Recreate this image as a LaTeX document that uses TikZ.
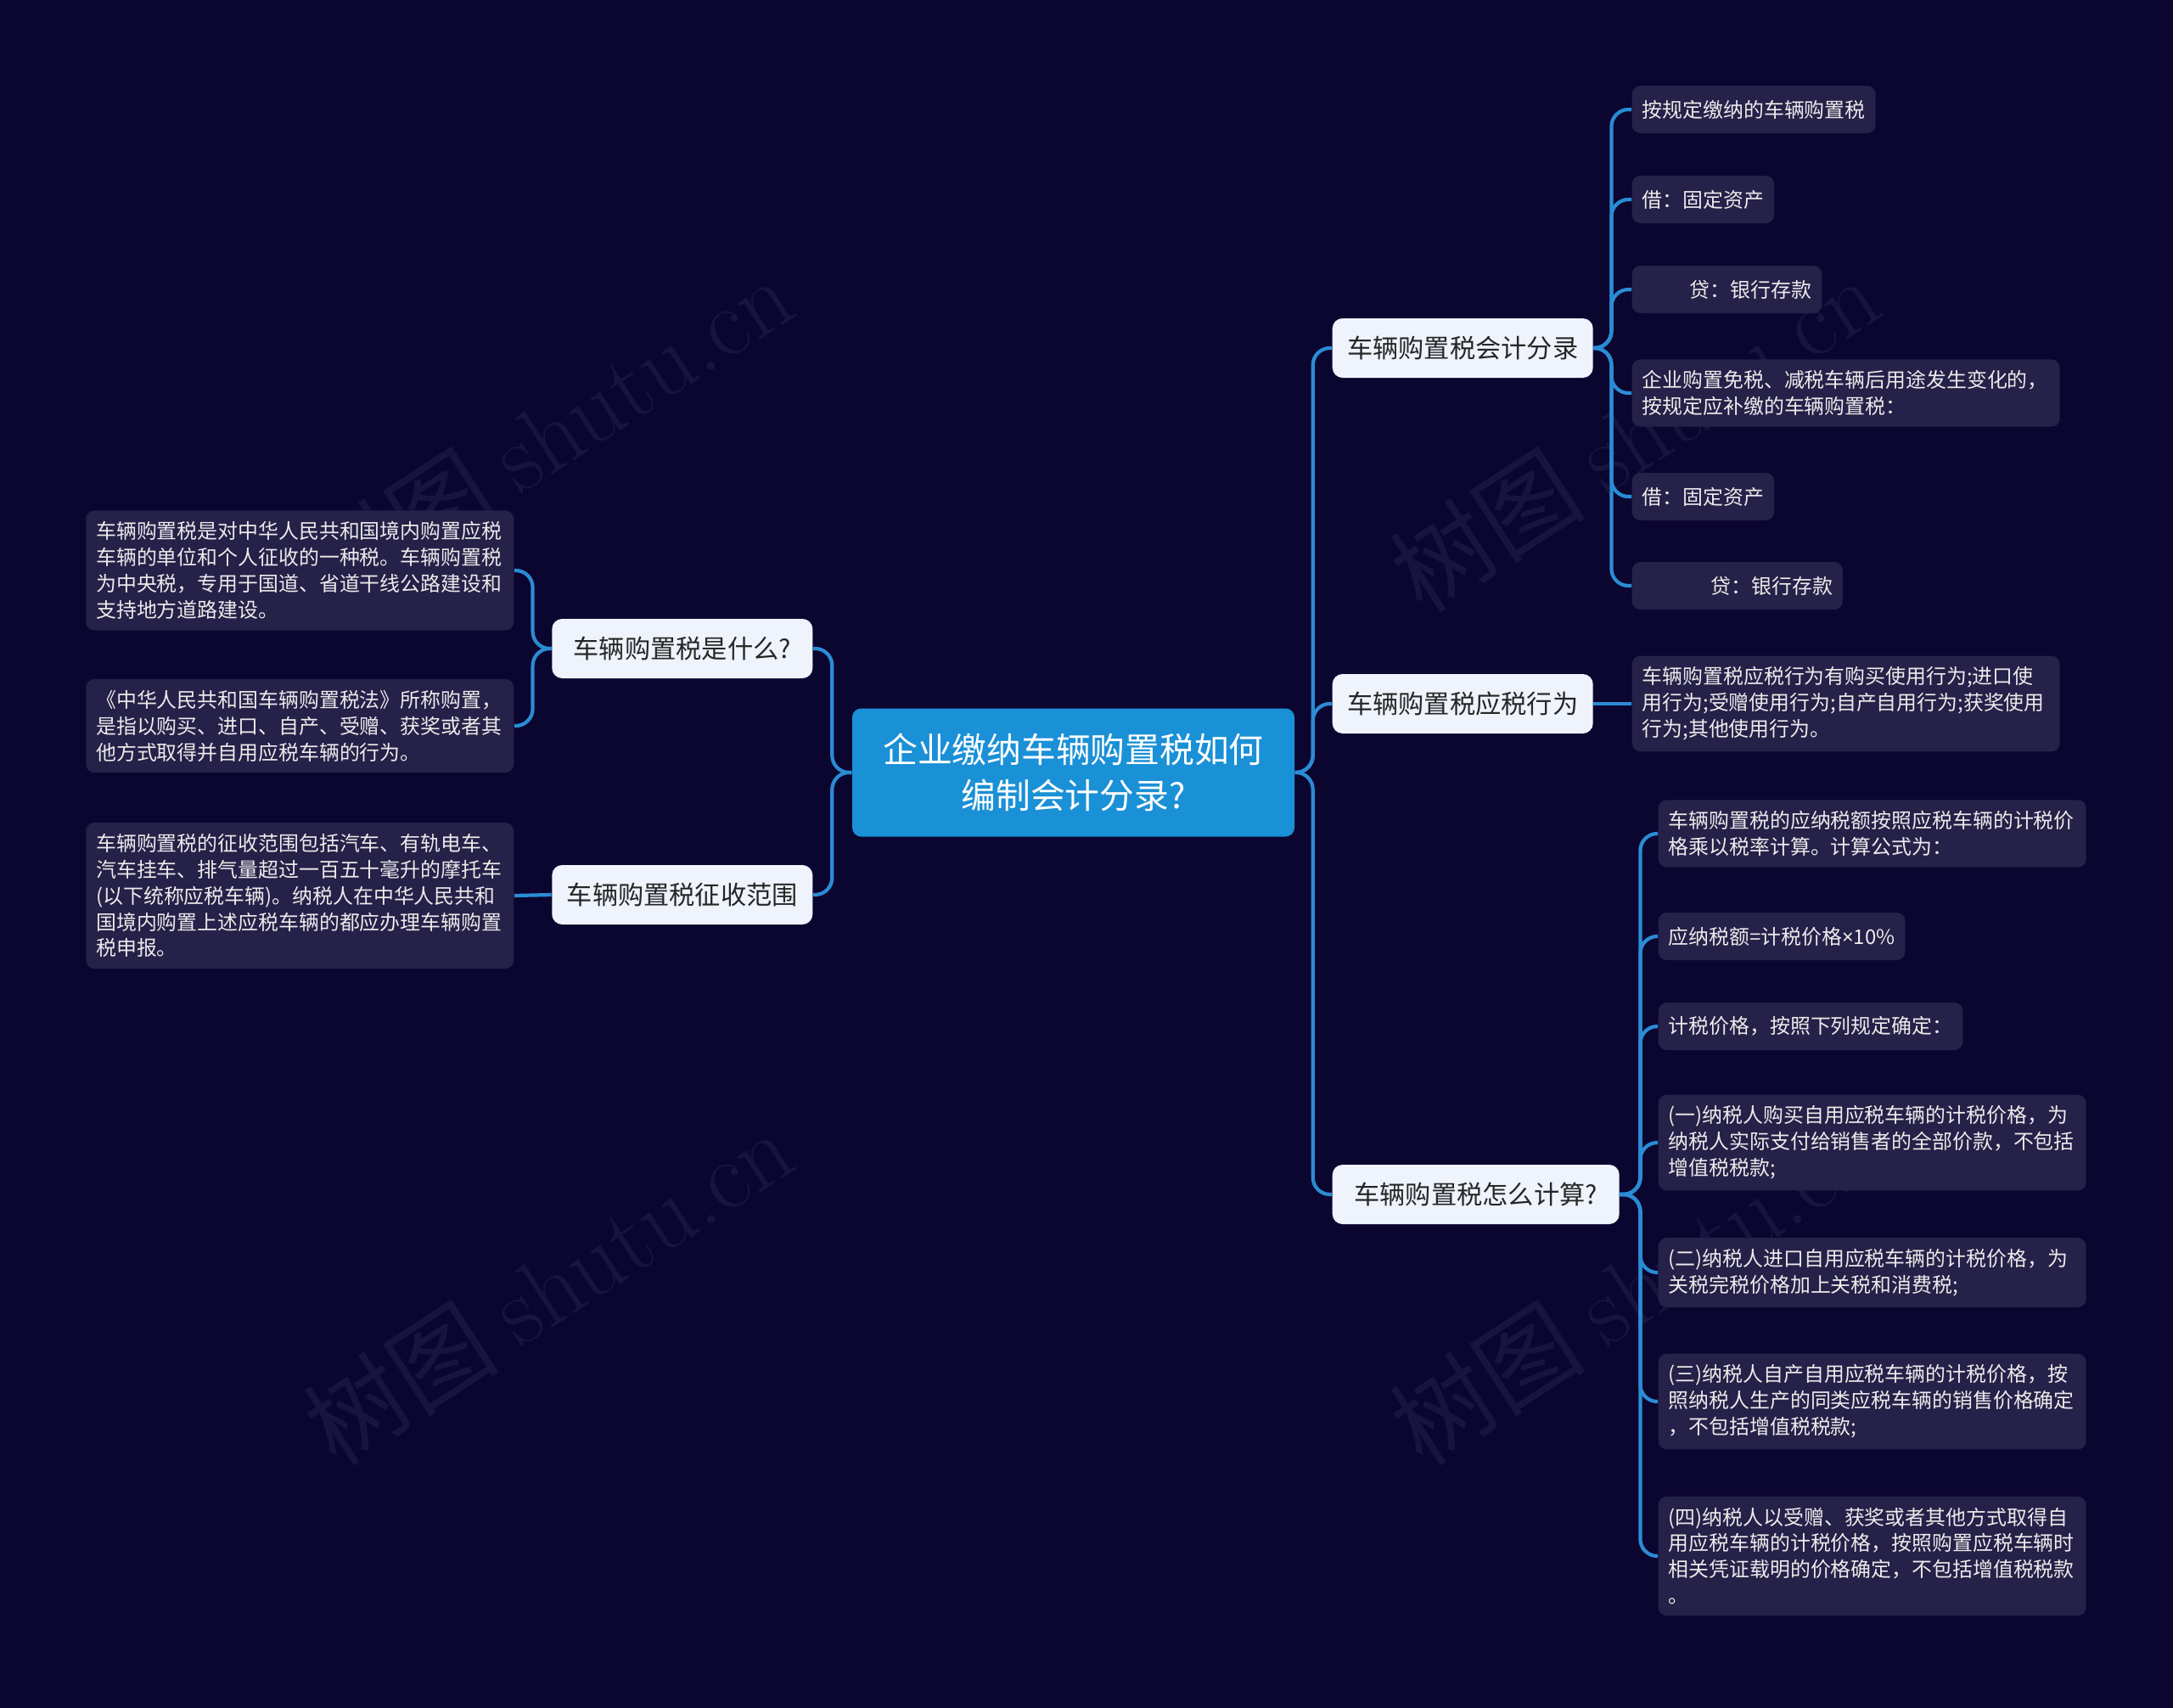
\documentclass[tikz,border=0pt]{standalone}
\usepackage{fontspec}
\newfontfamily\cjk{Noto Sans CJK SC}
\newfontfamily\latinsans{Noto Sans}
\usepackage{tikz}
\usetikzlibrary{positioning,calc}
\definecolor{bgNavy}{RGB}{11,6,48}
\definecolor{leafFill}{RGB}{37,33,72}
\definecolor{topicFill}{RGB}{238,243,252}
\definecolor{rootBlue}{RGB}{26,144,214}
\definecolor{linkBlue}{RGB}{42,140,212}
\definecolor{markGray}{RGB}{24,20,62}

\begin{document}
\begin{tikzpicture}[
    rootbox/.style={fill=rootBlue, text=white, rounded corners=3pt,
      minimum width=5.21cm, minimum height=1.51cm, align=center,
      font=\cjk\fontsize{11.6}{15.3}\selectfont},
    topicbox/.style={fill=topicFill, text=black!85, rounded corners=3.4pt,
      minimum width=3.07cm, minimum height=0.70cm, inner xsep=0.16cm,
      font=\cjk\fontsize{8.6}{10}\selectfont},
    leafbox/.style={fill=leafFill, text=white!92!black, rounded corners=2.8pt,
      inner xsep=0.12cm, inner ysep=0.13cm, minimum height=0.56cm, align=left,
      font=\cjk\fontsize{6.8}{8.8}\selectfont},
    longleaf/.style={leafbox, text width=4.8cm},
    link/.style={draw=linkBlue, line width=1.2pt, rounded corners=0.2cm},
    watermark/.style={rotate=33, text=markGray, font=\cjk\fontsize{33}{33}\selectfont}
  ]
  % background
  \fill[bgNavy] (0,0) rectangle (25.6,-20.12);

  % watermarks
  \node[watermark] (wm1) at (6.45,-5.10) {树图 {\rmfamily shutu.cn}};
  \node[watermark] (wm2) at (19.25,-5.10) {树图 {\rmfamily shutu.cn}};
  \node[watermark] (wm3) at (6.45,-15.15) {树图 {\rmfamily shutu.cn}};
  \node[watermark] (wm4) at (19.25,-15.15) {树图 {\rmfamily shutu.cn}};

  % root
  \node[rootbox] (root) at (12.645,-9.10) {企业缴纳车辆购置税如何\\编制会计分录?};

  % left topics
  \node[topicbox, anchor=east] (what) at (9.58,-7.64) {车辆购置税是什么?};
  \node[topicbox, anchor=east] (scope) at (9.58,-10.54) {车辆购置税征收范围};

  % right topics
  \node[topicbox, anchor=west] (acc) at (15.69,-4.10) {车辆购置税会计分录};
  \node[topicbox, anchor=west] (act) at (15.69,-8.29) {车辆购置税应税行为};
  \node[topicbox, anchor=west, minimum width=3.38cm] (calc) at (15.69,-14.07) {车辆购置税怎么计算?};

  % left leaves
  \node[longleaf, anchor=east] (what1) at (6.06,-6.72) {车辆购置税是对中华人民共和国境内购置应税\\车辆的单位和个人征收的一种税。车辆购置税\\为中央税，专用于国道、省道干线公路建设和\\支持地方道路建设。};
  \node[longleaf, anchor=east] (what2) at (6.06,-8.55) {《中华人民共和国车辆购置税法》所称购置，\\是指以购买、进口、自产、受赠、获奖或者其\\他方式取得并自用应税车辆的行为。};
  \node[longleaf, anchor=east] (scope1) at (6.06,-10.55) {车辆购置税的征收范围包括汽车、有轨电车、\\汽车挂车、排气量超过一百五十毫升的摩托车\\(以下统称应税车辆)。纳税人在中华人民共和\\国境内购置上述应税车辆的都应办理车辆购置\\税申报。};

  % accounting entries
  \node[leafbox, anchor=west] (acc1) at (19.22,-1.29) {按规定缴纳的车辆购置税};
  \node[leafbox, anchor=west] (acc2) at (19.22,-2.35) {借：固定资产};
  \node[leafbox, anchor=west] (acc3) at (19.22,-3.41) {\hspace*{16pt}贷：银行存款};
  \node[longleaf, anchor=west] (acc4) at (19.22,-4.63) {企业购置免税、减税车辆后用途发生变化的，\\按规定应补缴的车辆购置税：};
  \node[leafbox, anchor=west] (acc5) at (19.22,-5.85) {借：固定资产};
  \node[leafbox, anchor=west] (acc6) at (19.22,-6.90) {\hspace*{23pt}贷：银行存款};

  % taxable acts
  \node[longleaf, anchor=west] (act1) at (19.22,-8.29) {车辆购置税应税行为有购买使用行为;进口使\\用行为;受赠使用行为;自产自用行为;获奖使用\\行为;其他使用行为。};

  % calculation
  \node[longleaf, anchor=west] (calc1) at (19.53,-9.82) {车辆购置税的应纳税额按照应税车辆的计税价\\格乘以税率计算。计算公式为：};
  \node[leafbox, anchor=west] (calc2) at (19.53,-11.03) {应纳税额=计税价格{\latinsans ×}10\%};
  \node[leafbox, anchor=west] (calc3) at (19.53,-12.09) {计税价格，按照下列规定确定：};
  \node[longleaf, anchor=west] (calc4) at (19.53,-13.46) {(一)纳税人购买自用应税车辆的计税价格，为\\纳税人实际支付给销售者的全部价款，不包括\\增值税税款;};
  \node[longleaf, anchor=west] (calc5) at (19.53,-14.99) {(二)纳税人进口自用应税车辆的计税价格，为\\关税完税价格加上关税和消费税;};
  \node[longleaf, anchor=west] (calc6) at (19.53,-16.51) {(三)纳税人自产自用应税车辆的计税价格，按\\照纳税人生产的同类应税车辆的销售价格确定\\，不包括增值税税款;};
  \node[longleaf, anchor=west] (calc7) at (19.53,-18.33) {(四)纳税人以受赠、获奖或者其他方式取得自\\用应税车辆的计税价格，按照购置应税车辆时\\相关凭证载明的价格确定，不包括增值税税款\\。};

  % connectors
  \foreach \c in {what,scope}
    \draw[link] (root.west) -- ++(-0.23,0) |- (\c.east);
  \foreach \c in {acc,act,calc}
    \draw[link] (root.east) -- ++(0.21,0) |- (\c.west);
  \foreach \c in {what1,what2}
    \draw[link] (what.west) -- ++(-0.22,0) |- (\c.east);
  \draw[link] (scope.west) -- (scope1.east);
  \foreach \c in {acc1,acc2,acc3,acc4,acc5,acc6}
    \draw[link] (acc.east) -- ++(0.21,0) |- (\c.west);
  \draw[link] (act.east) -- (act1.west);
  \foreach \c in {calc1,calc2,calc3,calc4,calc5,calc6,calc7}
    \draw[link] (calc.east) -- ++(0.24,0) |- (\c.west);
\end{tikzpicture}
\end{document}
